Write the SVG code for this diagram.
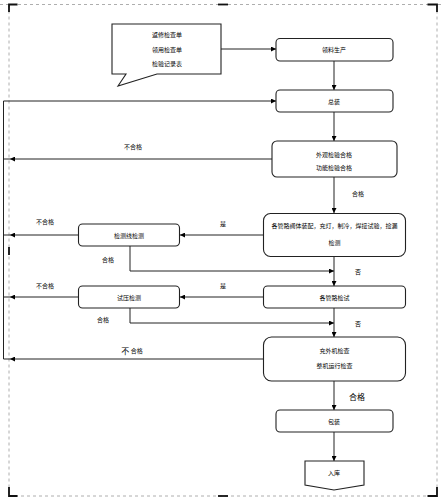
<svg xmlns="http://www.w3.org/2000/svg" width="443" height="502" viewBox="0 0 443 502">
<defs>
<marker id="ah" viewBox="0 0 10 10" refX="10" refY="5" markerWidth="6" markerHeight="5" markerUnits="userSpaceOnUse" orient="auto">
<path d="M0,0 L10,5 L0,10 z" fill="#000"/>
</marker>
<style>
.box{fill:#fff;stroke:#222;stroke-width:1.1}
.t{font-family:"Noto Sans CJK SC","Liberation Sans",sans-serif;font-size:6px;fill:#000;text-anchor:middle;dominant-baseline:central}
.big{font-size:8px}
.ln{fill:none;stroke:#222;stroke-width:1}
.arr{marker-end:url(#ah)}
.mid{marker-mid:url(#ah)}
.frame{fill:none;stroke:#999;stroke-width:0.8;stroke-dasharray:3,3}
.mark{fill:none;stroke:#111;stroke-width:1.8}
</style>
</defs>
<rect width="443" height="502" fill="#fff"/>
<g id="frame">
<line class="frame" x1="0" y1="4.5" x2="443" y2="4.5"/>
<line class="frame" x1="9" y1="4.5" x2="9" y2="496"/>
<line class="frame" x1="437" y1="4.5" x2="437" y2="496"/>
<line class="frame" x1="9" y1="496" x2="437" y2="496"/>
<path class="mark" d="M9,12 V4.5 H17.5"/>
<path class="mark" d="M427.5,4.5 H437 V12"/>
<path class="mark" d="M9,487 V496 H17.5"/>
<path class="mark" d="M427.5,496 H437 V487"/>
<line class="mark" x1="218" y1="4.5" x2="228" y2="4.5"/>
<line class="mark" x1="218" y1="496" x2="228" y2="496"/>
<line class="mark" x1="9" y1="247" x2="9" y2="255"/>
</g>
<g id="connectors">
<path class="ln arr" d="M221,49 H276"/>
<path class="ln arr" d="M334,61 V90"/>
<path class="ln arr" d="M3.5,359 V101 H276"/>
<path class="ln arr" d="M334,112 V141"/>
<path class="ln mid" d="M272,159 L10,159 L3.5,159"/>
<path class="ln arr" d="M334,177 V213"/>
<path class="ln arr" d="M263,235 H180"/>
<path class="ln mid" d="M78,235 L10,235 L3.5,235"/>
<path class="ln arr" d="M130,246 V271 H334"/>
<path class="ln arr" d="M334,257 V286"/>
<path class="ln arr" d="M263,297 H180"/>
<path class="ln mid" d="M78,297 L10,297 L3.5,297"/>
<path class="ln arr" d="M130,308 V323 H334"/>
<path class="ln arr" d="M334,308 V337"/>
<path class="ln mid" d="M263,359 L10,359 L3.5,359"/>
<path class="ln arr" d="M334,381 V410"/>
<path class="ln arr" d="M334,432 V461"/>
</g>
<g id="labels">
<text class="t" x="133" y="146">不合格</text>
<text class="t" x="358" y="193">合格</text>
<text class="t" x="45" y="221">不合格</text>
<text class="t" x="223" y="223">是</text>
<text class="t" x="108" y="259">合格</text>
<text class="t" x="358" y="271">否</text>
<text class="t" x="45" y="285">不合格</text>
<text class="t" x="223" y="285">是</text>
<text class="t" x="103" y="319">合格</text>
<text class="t" x="358" y="323">否</text>
<text class="t" x="132" y="350"><tspan class="big">不</tspan> 合格</text>
<text class="t big" x="357" y="396">合格</text>
</g>
<g id="callout">
<path class="box" d="M112,24 H221 V74 H157 L118,86 L126,74 H112 Z"/>
<text class="t" x="167" y="34.5">返修检查单</text>
<text class="t" x="167" y="49">领用检查单</text>
<text class="t" x="167" y="63.5">检验记录表</text>
</g>
<g id="n1">
<rect class="box" x="276" y="38.5" width="117" height="22.5" rx="4"/>
<text class="t" x="334" y="49.5">领料生产</text>
</g>
<g id="n2">
<rect class="box" x="276" y="90" width="117" height="22" rx="4"/>
<text class="t" x="334" y="101">总装</text>
</g>
<g id="n3">
<rect class="box" x="272" y="141" width="125" height="36" rx="5"/>
<text class="t" x="334" y="154">外观检验合格</text>
<text class="t" x="334" y="167">功能检验合格</text>
</g>
<g id="n4">
<rect class="box" x="263.5" y="213.5" width="142" height="43" rx="7"/>
<text class="t" x="334.5" y="225">各管路阀体装配，充灯，制冷，焊接试验，捡漏</text>
<text class="t" x="334.5" y="242">检测</text>
</g>
<g id="n4b">
<rect class="box" x="78.5" y="224" width="101" height="22" rx="4"/>
<text class="t" x="129" y="235">检测线检测</text>
</g>
<g id="n5">
<rect class="box" x="263.5" y="286" width="142" height="22" rx="4"/>
<text class="t" x="334.5" y="297.5">各管路检试</text>
</g>
<g id="n5b">
<rect class="box" x="78.5" y="286" width="101" height="22" rx="4"/>
<text class="t" x="129" y="297">试压检测</text>
</g>
<g id="n6">
<rect class="box" x="263.5" y="337" width="142" height="44" rx="8"/>
<text class="t" x="334.5" y="350">充外机检查</text>
<text class="t" x="334.5" y="365">整机运行检查</text>
</g>
<g id="n7">
<rect class="box" x="276" y="410" width="117" height="22" rx="4"/>
<text class="t" x="334" y="421">包装</text>
</g>
<g id="n8">
<path class="box" d="M305,461 H364 V485 L334,490 L305,485 Z"/>
<text class="t" x="334" y="472">入库</text>
</g>
</svg>
